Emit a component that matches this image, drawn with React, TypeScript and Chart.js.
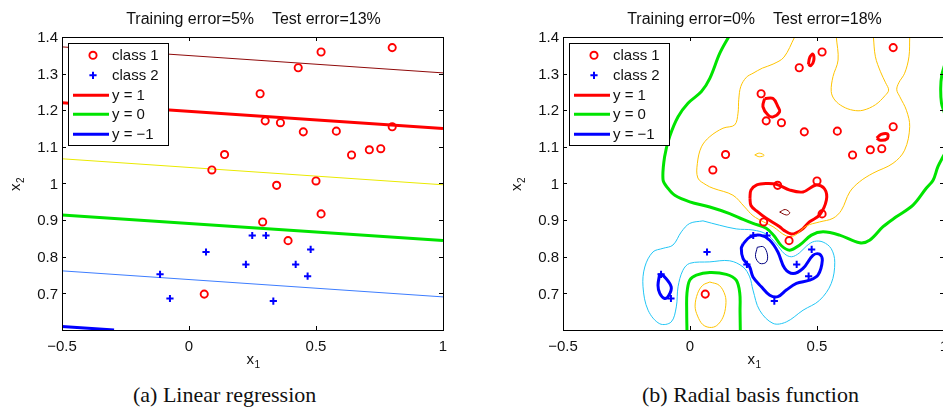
import React, { useEffect, useRef } from 'react';
import { Chart, registerables } from 'chart.js';

Chart.register(...registerables);

type Pt = [number, number];

// ---------------- data ----------------
const xTicks = [-0.5, 0, 0.5, 1];
const xTickLabels = ['\u22120.5', '0', '0.5', '1'];
const yTicks = [0.7, 0.8, 0.9, 1.0, 1.1, 1.2, 1.3, 1.4];
const yTickLabels = ['0.7', '0.8', '0.9', '1', '1.1', '1.2', '1.3', '1.4'];

const class1X = [0.80, 0.52, 0.43, 0.28, 0.30, 0.36, 0.45, 0.58, 0.80, 0.14, 0.09, 0.64, 0.71, 0.755, 0.345, 0.50, 0.52, 0.29, 0.39, 0.06];
const class1Y = [1.371, 1.359, 1.316, 1.245, 1.171, 1.166, 1.141, 1.143, 1.155, 1.079, 1.037, 1.078, 1.092, 1.095, 0.995, 1.007, 0.917, 0.895, 0.844, 0.698];
const class2X = [0.249, 0.303, 0.067, 0.479, 0.224, 0.420, -0.114, 0.467, -0.075, 0.332];
const class2Y = [0.858, 0.858, 0.813, 0.820, 0.779, 0.779, 0.752, 0.747, 0.686, 0.679];

const legendLabels = ['class 1', 'class 2', 'y = 1', 'y = 0', 'y = \u22121'];
const titleLinear = 'Training error=5%    Test error=13%';
const titleRbf = 'Training error=0%    Test error=18%';
const captionLinear = '(a) Linear regression';
const captionRbf = '(b) Radial basis function';
const xLabel = ['x', '1'];
const yLabel = ['x', '2'];

// Linear regression: straight contour lines (level, endpoints)
const linLevels = [1.5, 1, 0.5, 0, -0.5, -1];
const linStartX = [-0.5, -0.5, -0.5, -0.5, -0.5, -0.5];
const linStartY = [1.373, 1.2205, 1.0675, 0.9137, 0.7615, 0.6096];
const linEndX = [1, 1, 1, 1, 1, -0.295];
const linEndY = [1.302, 1.150, 0.9965, 0.8445, 0.6904, 0.600];

// RBF contours (level 0)
const rbfGreenOuter: Pt[] = [[0.152, 1.40], [0.117, 1.355], [0.078, 1.287], [0.045, 1.251], [-0.008, 1.219], [-0.047, 1.182], [-0.080, 1.128], [-0.100, 1.073], [-0.106, 1.009], [-0.087, 0.987], [-0.060, 0.968], [-0.001, 0.950], [0.078, 0.936], [0.156, 0.918], [0.209, 0.902], [0.248, 0.891], [0.300, 0.878], [0.330, 0.858], [0.360, 0.830], [0.393, 0.818], [0.432, 0.832], [0.478, 0.859], [0.524, 0.868], [0.589, 0.859], [0.668, 0.838], [0.707, 0.845], [0.760, 0.882], [0.812, 0.909], [0.878, 0.941], [0.930, 0.987], [0.957, 1.009], [0.976, 1.046], [0.996, 1.073], [1.01, 1.09]];
const rbfGreenRight: Pt[] = [[1.003, 1.325], [0.991, 1.295], [0.987, 1.26], [0.990, 1.22], [1.003, 1.19]];
const rbfGreenInner: Pt[] = [[-0.012, 0.60], [-0.013, 0.65], [-0.012, 0.700], [-0.001, 0.736], [0.025, 0.750], [0.078, 0.757], [0.143, 0.752], [0.182, 0.736], [0.196, 0.700], [0.197, 0.65], [0.198, 0.60]];
// level 0.5
const rbfOrangeMain: Pt[] = [[0.412, 1.40], [0.370, 1.345], [0.327, 1.326], [0.285, 1.315], [0.248, 1.301], [0.222, 1.290], [0.200, 1.265], [0.192, 1.230], [0.189, 1.192], [0.176, 1.160], [0.130, 1.151], [0.078, 1.128], [0.045, 1.100], [0.029, 1.055], [0.031, 1.015], [0.064, 0.996], [0.091, 0.987], [0.169, 0.968], [0.215, 0.936], [0.248, 0.912], [0.290, 0.895], [0.327, 0.882], [0.379, 0.857], [0.412, 0.858], [0.458, 0.884], [0.510, 0.895], [0.563, 0.905], [0.596, 0.927], [0.629, 0.977], [0.668, 1.005], [0.720, 1.028], [0.799, 1.055], [0.845, 1.091], [0.865, 1.155], [0.852, 1.200], [0.826, 1.237], [0.814, 1.256], [0.822, 1.275], [0.845, 1.301], [0.862, 1.346], [0.865, 1.40]];
const rbfOrangeTop: Pt[] = [[0.576, 1.40], [0.583, 1.337], [0.563, 1.292], [0.556, 1.251], [0.570, 1.228], [0.602, 1.210], [0.642, 1.200], [0.681, 1.200], [0.730, 1.215], [0.768, 1.240], [0.782, 1.255], [0.770, 1.275], [0.750, 1.305], [0.730, 1.346], [0.722, 1.40]];
const rbfOrangeOval: Pt[] = [[0.078, 0.731], [0.115, 0.722], [0.138, 0.695], [0.141, 0.668], [0.130, 0.635], [0.105, 0.612], [0.078, 0.607], [0.050, 0.615], [0.030, 0.638], [0.020, 0.665], [0.030, 0.700], [0.050, 0.722], [0.078, 0.731]];
const rbfOrangeBlob: Pt[] = [[0.255, 1.078], [0.273, 1.083], [0.292, 1.077], [0.273, 1.073], [0.255, 1.078]];
// level 1
const rbfRedHeart: Pt[] = [[0.236, 0.960], [0.240, 0.982], [0.263, 0.996], [0.300, 1.000], [0.340, 0.998], [0.393, 0.982], [0.445, 0.977], [0.497, 0.996], [0.530, 0.985], [0.537, 0.955], [0.510, 0.914], [0.470, 0.895], [0.445, 0.877], [0.420, 0.866], [0.399, 0.862], [0.370, 0.872], [0.353, 0.882], [0.300, 0.905], [0.262, 0.925], [0.240, 0.940], [0.236, 0.960]];
const rbfRedLoop: Pt[] = [[0.294, 1.232], [0.327, 1.232], [0.346, 1.210], [0.353, 1.196], [0.327, 1.182], [0.307, 1.187], [0.287, 1.210], [0.294, 1.232]];
const rbfRedSmallA: Pt[] = [[0.466, 1.325], [0.472, 1.345], [0.484, 1.353], [0.487, 1.335], [0.476, 1.322], [0.466, 1.325]];
const rbfRedSmallB: Pt[] = [[0.735, 1.124], [0.752, 1.134], [0.778, 1.135], [0.776, 1.122], [0.750, 1.118], [0.735, 1.124]];
// level 1.5
const rbfDarkRed: Pt[] = [[0.353, 0.922], [0.375, 0.929], [0.393, 0.920], [0.380, 0.914], [0.353, 0.922]];
// level -1
const rbfBlueMain: Pt[] = [[0.210, 0.836], [0.236, 0.854], [0.276, 0.859], [0.314, 0.845], [0.346, 0.813], [0.373, 0.768], [0.406, 0.754], [0.445, 0.768], [0.484, 0.804], [0.510, 0.807], [0.521, 0.791], [0.504, 0.750], [0.471, 0.736], [0.419, 0.727], [0.379, 0.709], [0.346, 0.691], [0.314, 0.695], [0.281, 0.718], [0.248, 0.745], [0.235, 0.772], [0.209, 0.795], [0.202, 0.823], [0.210, 0.836]];
const rbfBlueSmall: Pt[] = [[-0.119, 0.754], [-0.100, 0.745], [-0.074, 0.718], [-0.083, 0.695], [-0.100, 0.686], [-0.119, 0.700], [-0.126, 0.722], [-0.119, 0.754]];
// level -1.5
const rbfNavy: Pt[] = [[0.265, 0.826], [0.290, 0.827], [0.305, 0.805], [0.300, 0.785], [0.275, 0.782], [0.258, 0.800], [0.265, 0.826]];
// level -0.5
const rbfCyan: Pt[] = [[0.051, 0.898], [0.117, 0.886], [0.182, 0.876], [0.248, 0.873], [0.300, 0.862], [0.340, 0.835], [0.372, 0.808], [0.400, 0.800], [0.430, 0.810], [0.460, 0.830], [0.490, 0.842], [0.524, 0.840], [0.556, 0.822], [0.570, 0.785], [0.556, 0.727], [0.510, 0.681], [0.445, 0.654], [0.379, 0.622], [0.327, 0.618], [0.274, 0.654], [0.248, 0.709], [0.235, 0.745], [0.209, 0.772], [0.156, 0.789], [0.078, 0.786], [-0.001, 0.782], [-0.028, 0.763], [-0.047, 0.718], [-0.054, 0.663], [-0.074, 0.622], [-0.119, 0.617], [-0.165, 0.654], [-0.185, 0.718], [-0.178, 0.772], [-0.146, 0.813], [-0.106, 0.823], [-0.067, 0.832], [-0.034, 0.868], [-0.001, 0.891], [0.051, 0.898]];

const rbfLevels = [0, 0, 0, 0.5, 0.5, 0.5, 0.5, 1, 1, 1, 1, 1.5, -1, -1, -1.5, -0.5];
const rbfCurves: Pt[][] = [rbfGreenOuter, rbfGreenRight, rbfGreenInner, rbfOrangeMain, rbfOrangeTop, rbfOrangeOval, rbfOrangeBlob, rbfRedHeart, rbfRedLoop, rbfRedSmallA, rbfRedSmallB, rbfDarkRed, rbfBlueMain, rbfBlueSmall, rbfNavy, rbfCyan];

// ---------------- styles ----------------
const RED = '#ff0000';
const GREEN = '#00e400';
const BLUE = '#0000ff';
const FONT = '"Liberation Sans", Arial, sans-serif';

const linearStyle: Record<string, { c: string; w: number }> = {
  '1.5': { c: '#8f0a0a', w: 1 },
  '1': { c: RED, w: 3 },
  '0.5': { c: '#eaea00', w: 1 },
  '0': { c: GREEN, w: 3 },
  '-0.5': { c: '#3d7dff', w: 1 },
  '-1': { c: BLUE, w: 3 },
};
const rbfStyle: Record<string, { c: string; w: number }> = {
  '1.5': { c: '#800000', w: 1 },
  '1': { c: RED, w: 3 },
  '0.5': { c: '#ffc400', w: 1 },
  '0': { c: GREEN, w: 3 },
  '-0.5': { c: '#22c6f5', w: 1 },
  '-1': { c: BLUE, w: 3 },
  '-1.5': { c: '#000080', w: 1 },
};

const CANVAS_H = 375;

function pointDatasets() {
  return [
    {
      label: legendLabels[0],
      data: class1X.map((x, i) => ({ x, y: class1Y[i] })),
      pointStyle: 'circle',
      pointRadius: 3.6,
      pointBorderWidth: 1.9,
      pointBorderColor: RED,
      pointBackgroundColor: 'rgba(0,0,0,0)',
      showLine: false,
      order: 0,
    },
    {
      label: legendLabels[1],
      data: class2X.map((x, i) => ({ x, y: class2Y[i] })),
      pointStyle: 'cross',
      pointRadius: 3.6,
      pointBorderWidth: 2,
      pointBorderColor: BLUE,
      pointBackgroundColor: BLUE,
      showLine: false,
      order: 0,
    },
  ];
}

function lineDataset(pts: { x: number; y: number }[], st: { c: string; w: number }, tension: number) {
  return {
    data: pts,
    showLine: true,
    pointRadius: 0,
    borderColor: st.c,
    borderWidth: st.w,
    tension,
    fill: false,
    order: 1,
  };
}

function linearDatasets() {
  const lines = linLevels.map((lv, i) =>
    lineDataset(
      [
        { x: linStartX[i], y: linStartY[i] },
        { x: linEndX[i], y: linEndY[i] },
      ],
      linearStyle[String(lv)],
      0
    )
  );
  return [...pointDatasets(), ...lines];
}

function rbfDatasets() {
  const lines = rbfCurves.map((c, i) =>
    lineDataset(
      c.map(([x, y]) => ({ x, y })),
      rbfStyle[String(rbfLevels[i])],
      0.35
    )
  );
  return [...pointDatasets(), ...lines];
}

function makeDecor(title: string) {
  return {
    id: 'decor',
    afterDatasetsDraw(chart: any) {
      const { ctx, chartArea: a, scales } = chart;
      const xs = scales.x;
      const ys = scales.y;
      ctx.save();

      // legend box
      const bx = a.left + 6;
      const by = a.top + 6;
      const bw = 100;
      const bh = 102;
      ctx.fillStyle = '#ffffff';
      ctx.fillRect(bx, by, bw, bh);
      ctx.strokeStyle = '#000';
      ctx.lineWidth = 1;
      ctx.strokeRect(bx + 0.5, by + 0.5, bw, bh);
      const rowY = [12.3, 32.3, 52.3, 71.3, 91.3];
      ctx.strokeStyle = RED;
      ctx.lineWidth = 1.9;
      ctx.beginPath();
      ctx.arc(bx + 25, by + rowY[0], 3.6, 0, Math.PI * 2);
      ctx.stroke();
      ctx.strokeStyle = BLUE;
      ctx.lineWidth = 2;
      ctx.beginPath();
      ctx.moveTo(bx + 25 - 3.6, by + rowY[1]);
      ctx.lineTo(bx + 25 + 3.6, by + rowY[1]);
      ctx.moveTo(bx + 25, by + rowY[1] - 3.6);
      ctx.lineTo(bx + 25, by + rowY[1] + 3.6);
      ctx.stroke();
      const lc = [RED, GREEN, BLUE];
      for (let k = 0; k < 3; k++) {
        ctx.strokeStyle = lc[k];
        ctx.lineWidth = 3;
        ctx.beginPath();
        ctx.moveTo(bx + 5, by + rowY[k + 2]);
        ctx.lineTo(bx + 41, by + rowY[k + 2]);
        ctx.stroke();
      }
      ctx.fillStyle = '#111';
      ctx.font = '15px ' + FONT;
      ctx.textAlign = 'left';
      ctx.textBaseline = 'middle';
      legendLabels.forEach((t, k) => ctx.fillText(t, bx + 44, by + rowY[k] + 1));

      // frame
      ctx.strokeStyle = '#000';
      ctx.lineWidth = 1;
      ctx.strokeRect(a.left + 0.5, a.top + 0.5, a.right - a.left, a.bottom - a.top);
      ctx.beginPath();
      xTicks.forEach((v) => {
        const px = Math.round(xs.getPixelForValue(v)) + 0.5;
        ctx.moveTo(px, a.bottom);
        ctx.lineTo(px, a.bottom - 4);
        ctx.moveTo(px, a.top);
        ctx.lineTo(px, a.top + 4);
      });
      yTicks.forEach((v) => {
        const py = Math.round(ys.getPixelForValue(v)) + 0.5;
        ctx.moveTo(a.left, py);
        ctx.lineTo(a.left + 4, py);
        ctx.moveTo(a.right, py);
        ctx.lineTo(a.right - 4, py);
      });
      ctx.stroke();

      // tick labels
      ctx.fillStyle = '#111';
      ctx.font = '15px ' + FONT;
      ctx.textAlign = 'center';
      ctx.textBaseline = 'alphabetic';
      xTicks.forEach((v, i) => ctx.fillText(xTickLabels[i], xs.getPixelForValue(v), a.bottom + 20.5));
      ctx.textAlign = 'right';
      ctx.textBaseline = 'middle';
      yTicks.forEach((v, i) => ctx.fillText(yTickLabels[i], a.left - 4, ys.getPixelForValue(v) + 1));

      // title
      ctx.textAlign = 'center';
      ctx.textBaseline = 'alphabetic';
      ctx.font = '16px ' + FONT;
      ctx.fillText(title, (a.left + a.right) / 2 + 1, 24);

      // x label with subscript
      const cx = (a.left + a.right) / 2;
      ctx.textAlign = 'left';
      ctx.font = '15px ' + FONT;
      ctx.fillText(xLabel[0], cx - 6, a.bottom + 34);
      ctx.font = '10px ' + FONT;
      ctx.fillText(xLabel[1], cx + 2, a.bottom + 38);

      // y label rotated
      const cy = (a.top + a.bottom) / 2;
      ctx.save();
      ctx.translate(a.left - 42, cy);
      ctx.rotate(-Math.PI / 2);
      ctx.font = '15px ' + FONT;
      ctx.fillText(yLabel[0], -7.5, 0);
      ctx.font = '10px ' + FONT;
      ctx.fillText(yLabel[1], 0.5, 4);
      ctx.restore();

      ctx.restore();
    },
  };
}

function Plot(props: { left: number; width: number; padLeft: number; padRight: number; title: string; datasets: any[] }) {
  const ref = useRef<HTMLCanvasElement>(null);
  useEffect(() => {
    const chart = new Chart(ref.current as HTMLCanvasElement, {
      type: 'scatter',
      data: { datasets: props.datasets },
      options: {
        animation: false,
        responsive: false,
        events: [],
        layout: { padding: { left: props.padLeft, right: props.padRight, top: 37, bottom: CANVAS_H - 330 } },
        plugins: { legend: { display: false }, tooltip: { enabled: false } },
        scales: {
          x: { type: 'linear', min: -0.5, max: 1, display: false },
          y: { type: 'linear', min: 0.6, max: 1.4, display: false },
        },
      } as any,
      plugins: [makeDecor(props.title)],
    });
    return () => chart.destroy();
  }, []);
  return (
    <canvas
      ref={ref}
      width={props.width}
      height={CANVAS_H}
      style={{ position: 'absolute', left: props.left, top: 0, width: props.width, height: CANVAS_H }}
    />
  );
}

const captionStyle: React.CSSProperties = {
  position: 'absolute',
  top: 382,
  fontFamily: '"Liberation Serif", "Times New Roman", serif',
  fontSize: 22,
  lineHeight: '26px',
  color: '#111',
  whiteSpace: 'nowrap',
};

export default function App() {
  return (
    <div style={{ position: 'fixed', left: 0, top: 0, width: 943, height: 418, overflow: 'hidden', background: '#fff' }}>
      <Plot left={0} width={471} padLeft={62} padRight={471 - 443} title={titleLinear} datasets={linearDatasets()} />
      <Plot left={471} width={480} padLeft={92} padRight={480 - 473} title={titleRbf} datasets={rbfDatasets()} />
      <div style={{ ...captionStyle, left: 133 }}>{captionLinear}</div>
      <div style={{ ...captionStyle, left: 642 }}>{captionRbf}</div>
    </div>
  );
}
